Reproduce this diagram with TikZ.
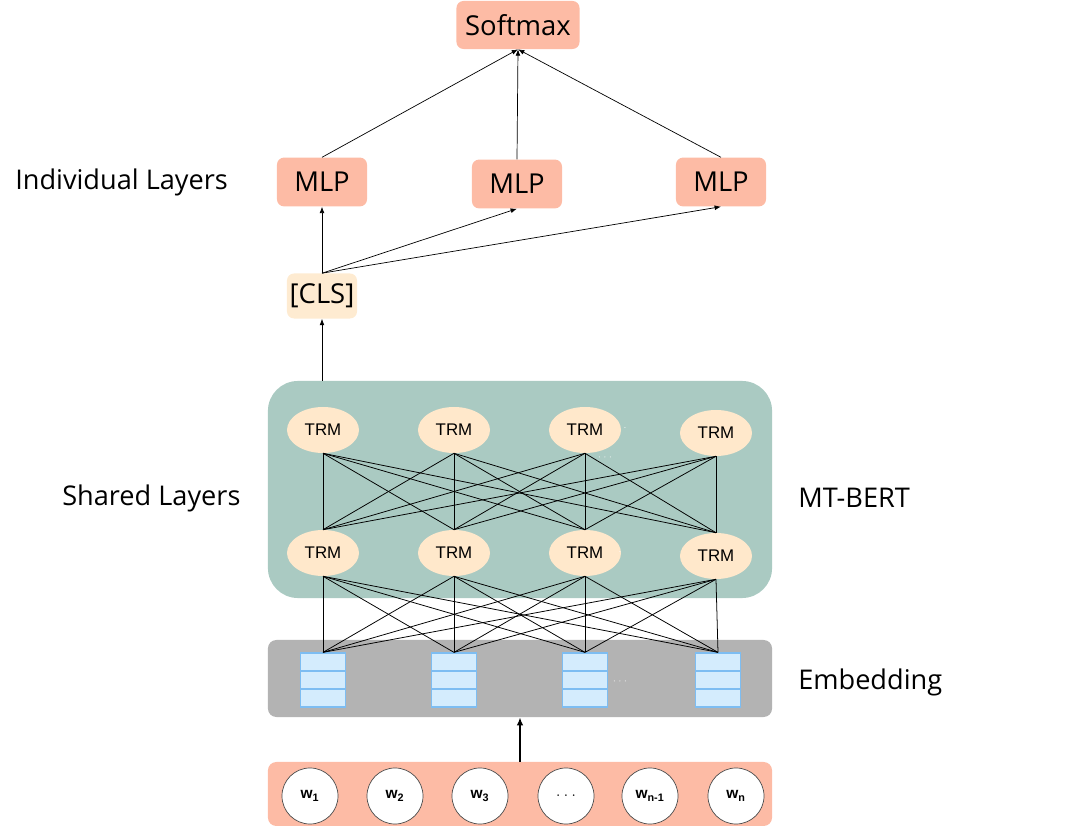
\documentclass[tikz,border=0pt]{standalone}
\usepackage{fontspec}
\setmainfont{Open Sans}
\newfontfamily\arialfont{Liberation Sans}
\usetikzlibrary{positioning,arrows.meta,shapes.geometric,calc}
\definecolor{csalmon}{HTML}{FDBBA5}
\definecolor{ccream}{HTML}{FEEBD1}
\definecolor{cteal}{HTML}{AACAC2}
\definecolor{ctrm}{HTML}{FFE8CB}
\definecolor{cgray}{HTML}{B3B3B3}
\definecolor{ccell}{HTML}{D4ECFD}
\definecolor{ccellb}{HTML}{7DBDF2}
\tikzset{
  hbox/.style={fill=csalmon, rounded corners=5pt, align=center, font=\fontsize{19.5}{22}\selectfont, inner sep=0pt},
  lbl/.style={font=\fontsize{19.3}{22}\selectfont, anchor=west, inner sep=0pt},
  trm/.style={ellipse, fill=ctrm, minimum width=1.8cm, minimum height=1.15cm, inner sep=0pt, font=\arialfont\fontsize{12}{14}\selectfont},
  cell/.style={draw=ccellb, fill=ccell, line width=0.9pt, minimum width=1.125cm, minimum height=0.45cm, inner sep=0pt},
  word/.style={circle, draw=black!70, fill=white, line width=0.5pt, minimum size=1.4cm, inner sep=0pt, font=\arialfont\bfseries\fontsize{11}{12}\selectfont},
  dots/.style={text=white, font=\arialfont\fontsize{6}{7}\selectfont, inner sep=0pt},
  sig/.style={-{Latex[length=1.6mm, width=1.2mm]}, line width=0.5pt},
  link/.style={line width=0.55pt},
}

\begin{document}
\begin{tikzpicture}[x=0.025cm, y=-0.025cm]
  \useasboundingbox (0,0) rectangle (1080,826);
  % top part
  \node[hbox, minimum width=3.075cm, minimum height=1.2cm] (soft) at (518,25) {Softmax};
  \node[hbox, minimum width=2.25cm, minimum height=1.22cm] (mlp1) at (322,182) {MLP};
  \node[hbox, minimum width=2.25cm, minimum height=1.22cm] (mlp2) at (517,184) {MLP};
  \node[hbox, minimum width=2.25cm, minimum height=1.22cm] (mlp3) at (721,182) {MLP};
  \node[hbox, fill=ccream, minimum width=1.75cm, minimum height=1.125cm] (cls) at (322,296) {[CLS]};
  \foreach \i in {1,2,3} {
    \draw[sig] (mlp\i.north) -- (soft.south);
    \draw[sig] (cls.north) -- (mlp\i.south);
  }

  % shared layers
  \node[fill=cteal, rounded corners=0.75cm, minimum width=12.6cm, minimum height=5.425cm] (shared) at (520,489.5) {};
  \draw[sig] (cls |- shared.north) -- (cls.south);
  \foreach \x/\yt/\yb [count=\i] in {323/430/553, 454/430/553, 585/430/553, 716/433/556} {
    \node[trm] (t\i) at (\x,\yt) {TRM};
    \node[trm] (b\i) at (\x,\yb) {TRM};
  }
  \node[dots] (d1) at (625,428) {.};
  \node[dots] (d2) at (605,457) {$\cdot\cdot\cdot$};
  \node[dots] (d3) at (620,552) {.};

  % embedding
  \node[fill=cgray, rounded corners=6pt, minimum width=12.6cm, minimum height=1.925cm] (emb) at (520,678.5) {};
  \foreach \x [count=\j] in {323,454,585,718} {
    \node[cell] (e\j1) at (\x,662) {};
    \node[cell] (e\j2) at (\x,680) {};
    \node[cell] (e\j3) at (\x,698) {};
  }
  \node[dots] (d4) at (620,681) {$\cdot\cdot\cdot$};

  % full connections
  \foreach \i in {1,...,4} {
    \foreach \j in {1,...,4} {
      \draw[link] (t\i.south) -- (b\j.north);
      \draw[link] (b\i.south) -- (e\j1.north);
    }
  }

  % input words
  \node[fill=csalmon, rounded corners=6pt, minimum width=12.6cm, minimum height=1.6cm] (words) at (520,794) {};
  \foreach \x/\w [count=\k] in {310/w\textsubscript{1}, 395/w\textsubscript{2}, 480/w\textsubscript{3}, 566/{\mdseries$\cdot\cdot\cdot$}, 650/w\textsubscript{n-1}, 736/w\textsubscript{n}} {
    \node[word] (w\k) at (\x,796) {\w};
  }
  \draw[-{Latex[length=2mm, width=1.6mm]}, line width=1.2pt] (words.north) -- (emb.south);

  % side labels
  \node[lbl] (lind) at (15,182) {Individual Layers};
  \node[lbl] (lshr) at (62,498) {Shared Layers};
  \node[lbl] (lbert) at (798,498) {MT-BERT};
  \node[lbl] (lemb) at (798,682) {Embedding};
\end{tikzpicture}
\end{document}
